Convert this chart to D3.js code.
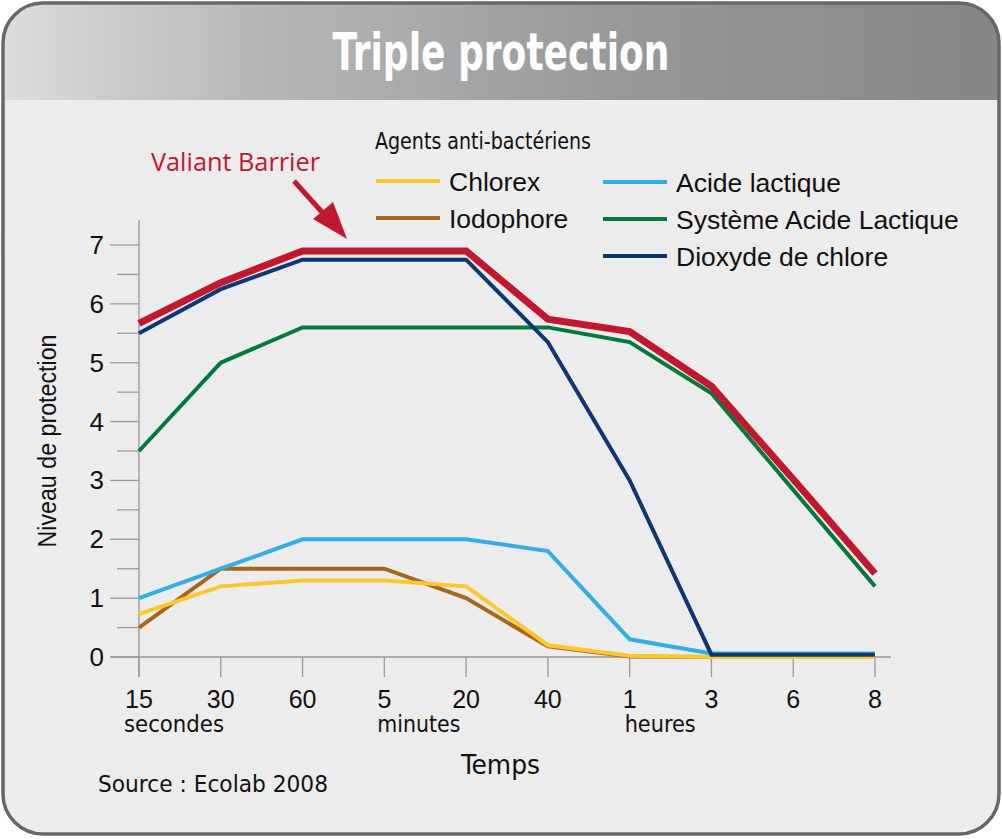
<!DOCTYPE html>
<html><head><meta charset="utf-8">
<script src="https://cdn.jsdelivr.net/npm/d3@7"></script>
<style>body{margin:0;background:#fff}svg{display:block}</style>
</head><body>
<script>
const timeLabels = ["15","30","60","5","20","40","1","3","6","8"];
const unitLabels = [{label:"secondes", at:0, dx:-15, w:100},{label:"minutes", at:3, dx:-7, w:83},{label:"heures", at:6, dx:-5, w:71}];
const yTicks = [0,1,2,3,4,5,6,7];
const chlorex = [0.73,1.2,1.3,1.3,1.2,0.2,0.02,0.0,0.0,0.0];
const iodophore = [0.5,1.5,1.5,1.5,1.0,0.18,0.01,0.0,0.0,0.0];
const acideLactique = [1.0,1.5,2.0,2.0,2.0,1.8,0.3,0.06,0.06,0.06];
const systemeAcideLactique = [3.5,5.0,5.6,5.6,5.6,5.6,5.35,4.48,2.84,1.2];
const dioxydeChlore = [5.5,6.25,6.75,6.75,6.75,5.35,3.0,0.04,0.04,0.04];
const valiantBarrier = [5.67,6.36,6.9,6.9,6.9,5.74,5.53,4.6,3.02,1.42];

const series = [
  {name:"Iodophore", values:iodophore, color:"#a7661f", w:4},
  {name:"Chlorex", values:chlorex, color:"#fdc72e", w:4},
  {name:"Acide lactique", values:acideLactique, color:"#34ade2", w:4},
  {name:"Système Acide Lactique", values:systemeAcideLactique, color:"#00793c", w:4},
  {name:"Dioxyde de chlore", values:dioxydeChlore, color:"#0d3672", w:4},
  {name:"Valiant Barrier", values:valiantBarrier, color:"#c0182f", w:7}
];
const legendItems = [
  {name:"Chlorex", color:"#fdc72e", col:0, row:0},
  {name:"Iodophore", color:"#a7661f", col:0, row:1},
  {name:"Acide lactique", color:"#34ade2", col:1, row:0},
  {name:"Système Acide Lactique", color:"#00793c", col:1, row:1},
  {name:"Dioxyde de chlore", color:"#0d3672", col:1, row:2}
];

const W=1002,H=839;
const svg=d3.select("body").append("svg").attr("width",W).attr("height",H);
const defs=svg.append("defs");
const g=defs.append("linearGradient").attr("id","hdr").attr("x1","0").attr("x2","1").attr("y1","0").attr("y2","0");
g.append("stop").attr("offset","0").attr("stop-color","#dcdddf");
g.append("stop").attr("offset","0.25").attr("stop-color","#b7b8ba");
g.append("stop").attr("offset","0.6").attr("stop-color","#98999b");
g.append("stop").attr("offset","1").attr("stop-color","#858688");
defs.append("clipPath").attr("id","frameClip").append("rect").attr("x",3).attr("y",3).attr("width",996).attr("height",831).attr("rx",40);

const frame=svg.append("g");
frame.append("rect").attr("x",3).attr("y",3).attr("width",996).attr("height",831).attr("rx",40).attr("fill","#ececec");
frame.append("rect").attr("x",0).attr("y",0).attr("width",W).attr("height",100).attr("fill","url(#hdr)").attr("clip-path","url(#frameClip)");
frame.append("rect").attr("x",3).attr("y",3).attr("width",996).attr("height",831).attr("rx",40).attr("fill","none").attr("stroke","#666768").attr("stroke-width",3.5);

svg.append("text").attr("x",501).attr("y",70).attr("text-anchor","middle")
  .attr("font-family","'DejaVu Sans Condensed','DejaVu Sans',sans-serif").attr("font-weight","bold")
  .attr("font-size",52).attr("fill","#fff").attr("textLength",337).attr("lengthAdjust","spacingAndGlyphs")
  .text("Triple protection");

const x=d3.scalePoint().domain(d3.range(timeLabels.length)).range([139,875]);
const y=d3.scaleLinear().domain([0,7]).range([657,245]);

// axes
const ax=svg.append("g").attr("stroke","#999").attr("stroke-width",1.3);
ax.append("line").attr("x1",139).attr("x2",139).attr("y1",220).attr("y2",677);
ax.append("line").attr("x1",110).attr("x2",891).attr("y1",y(0)).attr("y2",y(0));
d3.range(0,7.01,0.5).forEach(v=>{
  ax.append("line").attr("x1",Number.isInteger(v)?110:117).attr("x2",139).attr("y1",y(v)).attr("y2",y(v));
});
d3.range(timeLabels.length).forEach(i=>{
  ax.append("line").attr("x1",x(i)).attr("x2",x(i)).attr("y1",y(0)).attr("y2",677);
});
const font="'Liberation Sans',Arial,sans-serif";
svg.append("g").selectAll("text").data(yTicks).join("text")
  .attr("x",104).attr("y",d=>y(d)+9).attr("text-anchor","end").attr("font-family",font).attr("font-size",26).attr("fill","#111").text(d=>d);
svg.append("g").selectAll("text").data(timeLabels).join("text")
  .attr("x",(d,i)=>x(i)).attr("y",708).attr("text-anchor","middle").attr("font-family",font).attr("font-size",25).attr("fill","#111").text(d=>d);
const nfont="'Liberation Sans Narrow','DejaVu Sans Condensed','Liberation Sans',sans-serif";
svg.append("g").selectAll("text").data(unitLabels).join("text")
  .attr("x",d=>x(d.at)+d.dx).attr("y",732).attr("font-family",nfont).attr("font-size",23).attr("fill","#111")
  .attr("textLength",d=>d.w).attr("lengthAdjust","spacingAndGlyphs").text(d=>d.label);
svg.append("text").attr("x",461).attr("y",774).attr("font-family",nfont).attr("font-size",27).attr("fill","#111")
  .attr("textLength",79).attr("lengthAdjust","spacingAndGlyphs").text("Temps");
svg.append("text").attr("x",98).attr("y",792).attr("font-family",nfont).attr("font-size",23).attr("fill","#111")
  .attr("textLength",230).attr("lengthAdjust","spacingAndGlyphs").text("Source : Ecolab 2008");
svg.append("text").attr("transform","translate(56,441) rotate(-90)").attr("text-anchor","middle")
  .attr("font-family",font).attr("font-size",25).attr("fill","#111").attr("textLength",213).attr("lengthAdjust","spacingAndGlyphs").text("Niveau de protection");

// lines
const line=d3.line().x((d,i)=>x(i)).y(d=>y(d));
svg.append("g").selectAll("path").data(series).join("path")
  .attr("d",d=>line(d.values)).attr("fill","none").attr("stroke",d=>d.color).attr("stroke-width",d=>d.w)
  .attr("stroke-linejoin","miter");

// legend
svg.append("text").attr("x",375).attr("y",149).attr("font-family",nfont).attr("font-size",23).attr("fill","#111")
  .attr("textLength",216).attr("lengthAdjust","spacingAndGlyphs").text("Agents anti-bactériens");
const lg=svg.append("g").selectAll("g").data(legendItems).join("g")
  .attr("transform",d=>`translate(${d.col?603:376},${(d.col?182:181)+d.row*37})`);
lg.append("line").attr("x1",0).attr("x2",64).attr("stroke",d=>d.color).attr("stroke-width",4);
lg.append("text").attr("x",73).attr("y",10).attr("font-family",font).attr("font-size",26.5).attr("fill","#111").text(d=>d.name);

// annotation
svg.append("text").attr("x",151).attr("y",171).attr("font-family","'Open Sans','Noto Sans',sans-serif").attr("font-size",25)
  .attr("fill","#c0182f").attr("textLength",169).attr("lengthAdjust","spacingAndGlyphs").text("Valiant Barrier");
svg.append("line").attr("x1",294).attr("y1",181).attr("x2",330).attr("y2",221).attr("stroke","#c0182f").attr("stroke-width",5);
svg.append("path").attr("d","M347,239 L313,219 L333,202 Z").attr("fill","#c0182f");
</script>
</body></html>
